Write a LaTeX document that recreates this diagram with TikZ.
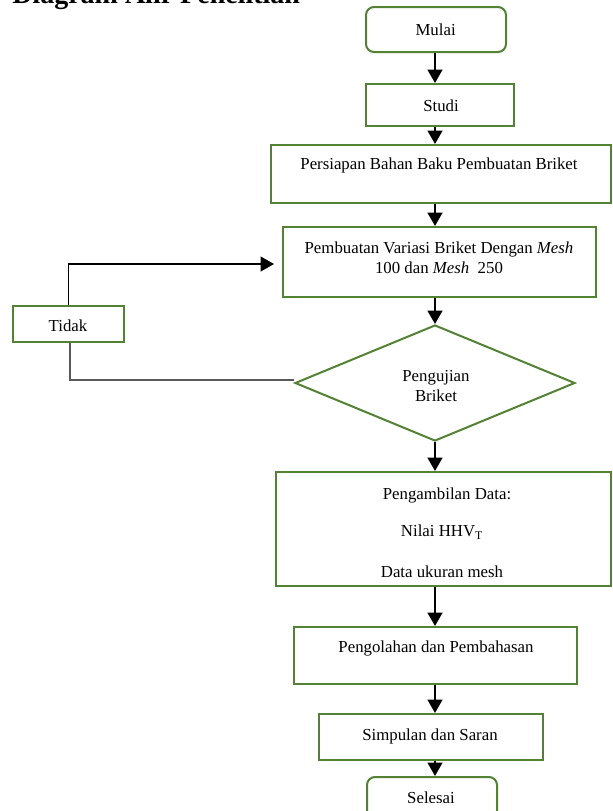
\documentclass[tikz,border=0pt]{standalone}
\usepackage{fontspec}
\setmainfont{Liberation Serif}
\usetikzlibrary{arrows.meta,shapes.geometric,calc}
\definecolor{boxgreen}{HTML}{548235}
\definecolor{linegray}{HTML}{595959}
\begin{document}
\begin{tikzpicture}[x=0.75pt,y=-0.75pt,
  box/.style={draw=boxgreen,line width=1.5pt,rectangle,inner sep=0pt},
  rbox/.style={box,rounded corners=6pt},
  sz/.style n args={2}{minimum width={#1*0.75pt},minimum height={#2*0.75pt}},
  txt/.style={inner sep=0pt,align=center,font=\fontsize{12.6}{15}\selectfont},
  arr/.style={draw=black,line width=1.7pt,-{Triangle[width=11pt,length=10pt]}},
  back/.style={draw=black,line width=1.4pt,-{Triangle[width=11pt,length=10pt]}},
  backg/.style={draw=linegray,line width=1.1pt}]
\useasboundingbox (0,0) rectangle (613,811);
\clip (0,0) rectangle (613,811);
\fill[white] (0,0) rectangle (613,811);

\node[anchor=base west,inner sep=0pt,font=\fontsize{21}{25}\selectfont\bfseries] (title) at (12,3) {Diagram Alir Penelitian};

\node[rbox,sz={140}{45}] (mulai) at (436,29.5) {};
\node[txt] (mulait) at (435.6,30) {Mulai};

\node[box,sz={148}{42}] (studi) at (440,105) {};
\node[txt] (studit) at (441,106) {Studi};

\node[box,sz={340}{58}] (persiapan) at (441,174) {};
\node[txt] (persiapant) at (439,165) {Persiapan Bahan Baku Pembuatan Briket};

\node[box,sz={313}{70}] (pembuatan) at (439.5,262) {};
\node[txt] (pembuatant) at (439,258) {Pembuatan Variasi Briket Dengan \textit{Mesh}\\100 dan \textit{Mesh}~~250};

\node[box,sz={111}{36}] (tidak) at (68.5,324) {};
\node[txt] (tidakt) at (68,326) {Tidak};

\node[draw=boxgreen,line width=1.5pt,diamond,sz={280}{116},inner sep=0pt] (uji) at (435,383) {};
\node[txt] (ujit) at (436,386) {Pengujian\\Briket};

\node[box,sz={335}{114}] (ambil) at (443.5,529) {};
\node[txt] (ambil1) at (447,495) {Pengambilan Data:};
\node[txt] (ambil2) at (442,532) {Nilai HHV\textsubscript{T}};
\node[txt] (ambil3) at (442,572) {Data ukuran mesh};

\node[box,sz={283}{57}] (olah) at (435.5,655.5) {};
\node[txt] (olaht) at (436,648) {Pengolahan dan Pembahasan};

\node[box,sz={224}{46}] (simpul) at (431,737) {};
\node[txt] (simpult) at (430,736) {Simpulan dan Saran};

\node[rbox,sz={130}{45}] (selesai) at (432,799.5) {};
\begin{scope}
\clip (380,785) rectangle (480,802.5);
\node[txt] (selesait) at (431,797.5) {Selesai};
\end{scope}

\coordinate (ax) at (435,0);
\draw[arr] (mulai.south -| ax) -- (studi.north -| ax);
\draw[arr] (studi.south -| ax) -- (persiapan.north -| ax);
\draw[arr] (persiapan.south -| ax) -- (pembuatan.north -| ax);
\draw[arr] (pembuatan.south -| ax) -- (uji.north -| ax);
\draw[arr] (uji.south -| ax) -- (ambil.north -| ax);
\draw[arr] (ambil.south -| ax) -- (olah.north -| ax);
\draw[arr] (olah.south -| ax) -- (simpul.north -| ax);
\draw[arr] (simpul.south -| ax) -- (selesai.north -| ax);

\draw[back,shorten >=6pt] (tidak.north) |- ($(pembuatan.west)+(0,2)$);
\draw[backg] ($(tidak.south)+(1.5,0)$) |- ($(uji.west)+(0,-3)$);
\end{tikzpicture}
\end{document}
